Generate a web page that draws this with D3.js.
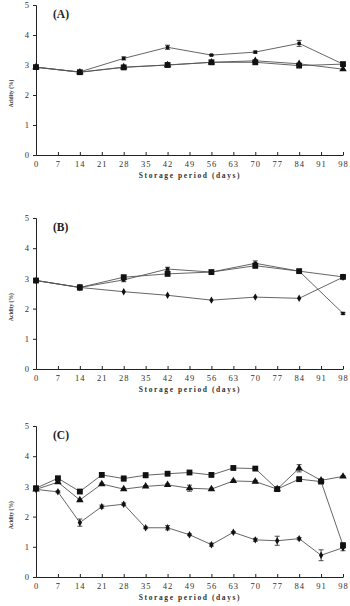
<!DOCTYPE html>
<html>
<head>
<meta charset="utf-8">
<script src="https://cdn.jsdelivr.net/npm/d3@7"></script>
<style>
  body { margin: 0; background: #fff; }
  svg { display: block; font-family: "Liberation Serif", "DejaVu Serif", serif; }
</style>
</head>
<body>
<svg id="chart" width="350" height="606"></svg>
<script>
// x ticks (days)
const tickDays = [0, 7, 14, 21, 28, 35, 42, 49, 56, 63, 70, 77, 84, 91, 98];
const yTicks = [0, 1, 2, 3, 4, 5];

// panel A, B sampling days
const daysAB = [0, 14, 28, 42, 56, 70, 84, 98];
// panel C sampling days
const daysC = [0, 7, 14, 21, 28, 35, 42, 49, 56, 63, 70, 77, 84, 91, 98];

// panel A
const aSquare   = [2.93, 2.76, 2.92, 3.00, 3.09, 3.09, 2.98, 3.03];
const aTriangle = [2.93, 2.76, 2.93, 3.00, 3.09, 3.14, 3.04, 2.86];
const aDiamond  = [2.92, 2.77, 3.22, 3.59, 3.33, 3.43, 3.72, 3.03];
const aDiamondErr = [0.03, 0.02, 0.05, 0.07, 0.02, 0.03, 0.1, 0.03];

// panel B
const bSquare   = [2.93, 2.70, 3.04, 3.15, 3.21, 3.42, 3.24, 3.05];
const bTriangle = [2.93, 2.70, 2.95, 3.31, 3.21, 3.50, 3.24, 1.84];
const bDiamond  = [2.93, 2.70, 2.56, 2.44, 2.28, 2.38, 2.34, 3.04];
const bErr      = [0.05, 0.08, 0.06, 0.06, 0.03, 0.08, 0.04, 0.03];

// panel C
const cSquare   = [2.94, 3.27, 2.83, 3.38, 3.26, 3.37, 3.42, 3.46, 3.38, 3.61, 3.59, 2.91, 3.24, 3.16, 1.05];
const cSquareErr = [0.03, 0.03, 0.03, 0.03, 0.08, 0.08, 0.03, 0.04, 0.03, 0.03, 0.03, 0.03, 0.04, 0.06, 0.08];
const cTriangle = [2.90, 3.14, 2.55, 3.08, 2.91, 3.00, 3.05, 2.94, 2.91, 3.18, 3.16, 2.91, 3.60, 3.20, 3.33];
const cTriangleErr = [0.03, 0.03, 0.03, 0.03, 0.03, 0.03, 0.03, 0.1, 0.03, 0.03, 0.04, 0.03, 0.12, 0.04, 0.02];
const cDiamond  = [2.90, 2.82, 1.80, 2.33, 2.41, 1.63, 1.63, 1.40, 1.07, 1.48, 1.23, 1.20, 1.27, 0.72, 0.97];
const cDiamondErr = [0.03, 0.03, 0.12, 0.05, 0.04, 0.03, 0.07, 0.03, 0.05, 0.02, 0.05, 0.15, 0.04, 0.18, 0.1];

const panels = [
  { label: "(A)", top: 5, bottom: 155, days: daysAB,
    series: [
      { values: aDiamond, err: aDiamondErr, shape: "dash" },
      { values: aTriangle, err: null, shape: "triangle" },
      { values: aSquare, err: null, shape: "square" }
    ] },
  { label: "(B)", top: 218, bottom: 369, days: daysAB,
    series: [
      { values: bDiamond, err: null, shape: "diamond" },
      { values: bTriangle, err: bErr, shape: "dash" },
      { values: bSquare, err: bErr, shape: "square" }
    ] },
  { label: "(C)", top: 426, bottom: 577, days: daysC,
    series: [
      { values: cDiamond, err: cDiamondErr, shape: "diamond" },
      { values: cTriangle, err: cTriangleErr, shape: "triangle" },
      { values: cSquare, err: cSquareErr, shape: "square" }
    ] }
];

const svg = d3.select("#chart");
const left = 36, right = 343;

const symbols = {
  square: d3.symbol().type(d3.symbolSquare).size(34),
  triangle: d3.symbol().type(d3.symbolTriangle).size(24),
  diamond: d3.symbol().type(d3.symbolDiamond).size(16),
  dash: d3.symbol().type(d3.symbolSquare).size(12)
};

panels.forEach(p => {
  const x = d3.scaleLinear().domain([0, 98]).range([left, right]);
  const y = d3.scaleLinear().domain([0, 5]).range([p.bottom, p.top]);
  const g = svg.append("g");

  // y axis
  const ya = g.append("g")
    .attr("transform", `translate(${left},0)`)
    .call(d3.axisLeft(y).tickValues(yTicks).tickSize(3).tickPadding(4).tickFormat(d3.format("d")));
  ya.select(".domain").attr("stroke", "#222").attr("stroke-width", 1);
  ya.selectAll("line").attr("stroke", "#222");
  ya.selectAll("text").attr("font-size", 8.5).attr("fill", "#333").attr("font-family", "Liberation Serif");

  // x axis, ticks pointing up
  const xa = g.append("g")
    .attr("transform", `translate(0,${p.bottom})`)
    .call(d3.axisBottom(x).tickValues(tickDays).tickSize(-3).tickSizeOuter(0).tickPadding(6));
  xa.select(".domain").attr("stroke", "#222").attr("stroke-width", 1);
  xa.selectAll("line").attr("stroke", "#222");
  xa.selectAll("text").attr("font-size", 8.5).attr("fill", "#333")
    .attr("font-family", "Liberation Serif").attr("letter-spacing", 1);

  // axis titles
  g.append("text")
    .attr("x", 190)
    .attr("y", p.bottom + 23)
    .attr("text-anchor", "middle")
    .attr("font-size", 7.5)
    .attr("font-weight", "bold")
    .attr("letter-spacing", 1.6)
    .attr("fill", "#333")
    .text("Storage period (days)");

  g.append("text")
    .attr("transform", `translate(13,${y(2.05)}) rotate(-90)`)
    .attr("text-anchor", "middle")
    .attr("font-size", 5.5)
    .attr("font-weight", "bold")
    .attr("fill", "#333")
    .text("Acidity (%)");

  g.append("text")
    .attr("x", 53)
    .attr("y", y(4.6) + 1)
    .attr("font-size", 11.5)
    .attr("font-weight", "bold")
    .attr("fill", "#222")
    .text(p.label);

  const line = d3.line()
    .x((d, i) => x(p.days[i]))
    .y(d => y(d));

  p.series.forEach(s => {
    g.append("path")
      .datum(s.values)
      .attr("fill", "none")
      .attr("stroke", "#555")
      .attr("stroke-width", 0.9)
      .attr("d", line);

    if (s.err) {
      const eb = g.append("g").attr("stroke", "#222").attr("stroke-width", 0.8);
      s.values.forEach((v, i) => {
        const cx = x(p.days[i]);
        const e = s.err[i];
        eb.append("line").attr("x1", cx).attr("x2", cx).attr("y1", y(v - e)).attr("y2", y(v + e));
        eb.append("line").attr("x1", cx - 2.5).attr("x2", cx + 2.5).attr("y1", y(v - e)).attr("y2", y(v - e));
        eb.append("line").attr("x1", cx - 2.5).attr("x2", cx + 2.5).attr("y1", y(v + e)).attr("y2", y(v + e));
      });
    }

    g.selectAll(null)
      .data(s.values)
      .enter()
      .append("path")
      .attr("transform", (d, i) => `translate(${x(p.days[i])},${y(d)})`)
      .attr("d", symbols[s.shape])
      .attr("fill", "#111");
  });
});
</script>
</body>
</html>
